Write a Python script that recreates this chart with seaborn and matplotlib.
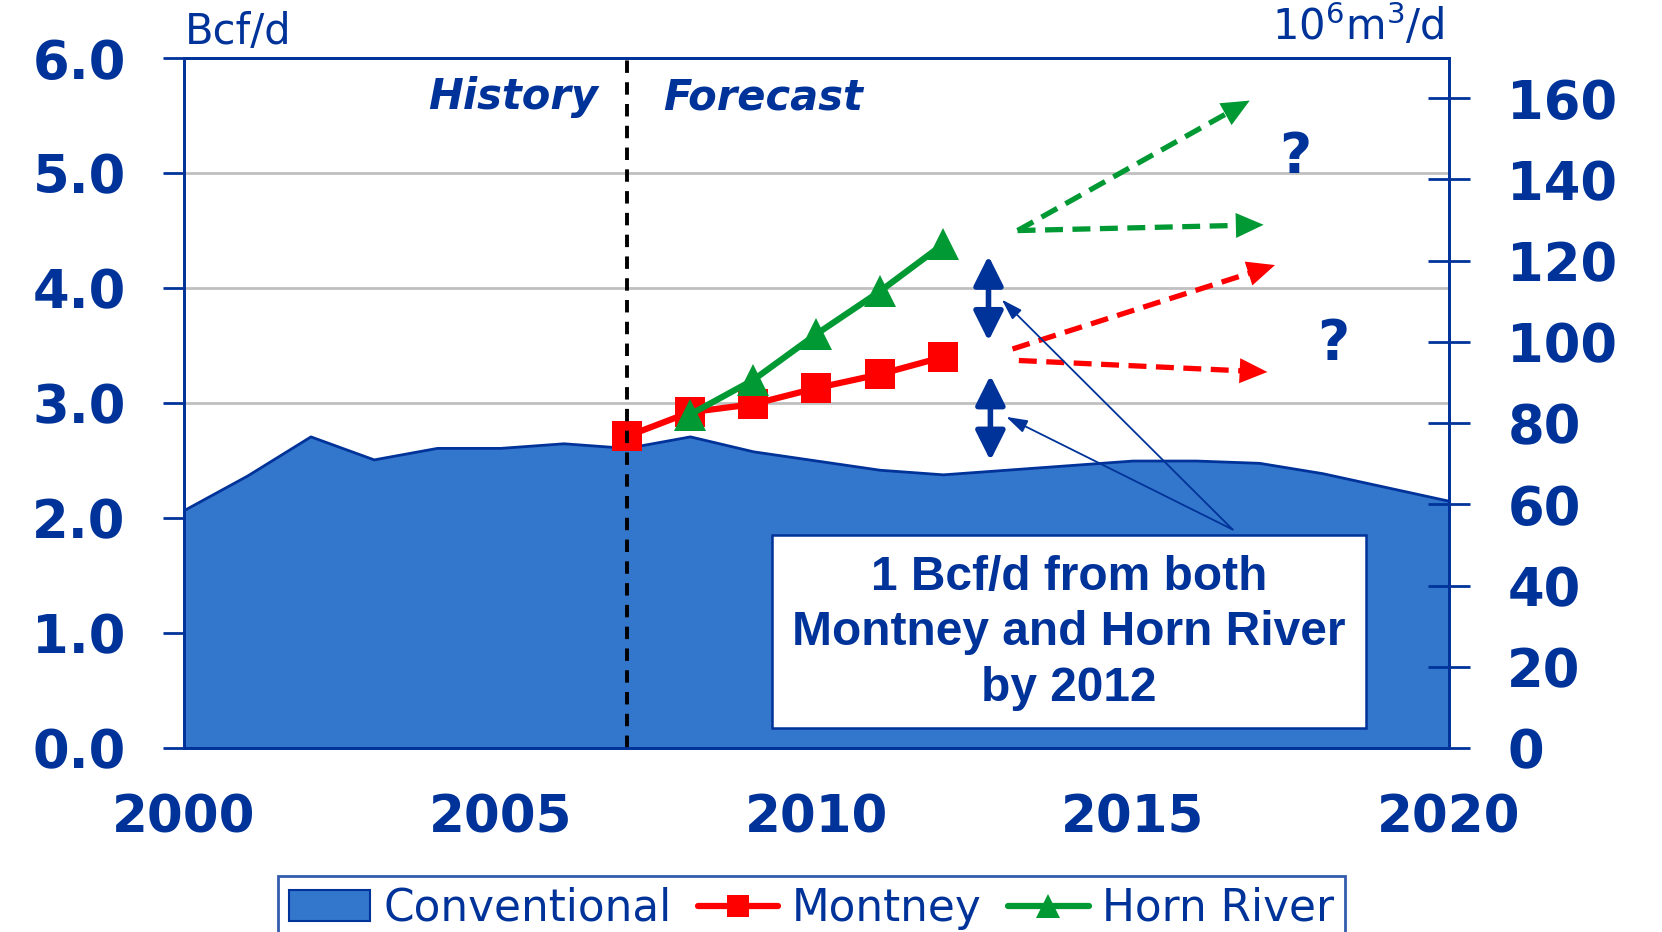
import numpy as np
import pandas as pd
import matplotlib
matplotlib.use("Agg")
import matplotlib.pyplot as plt
import seaborn as sns
from matplotlib.patches import Rectangle, Patch
from matplotlib.lines import Line2D

# ---------------- data ----------------
years = list(range(2000, 2021))
conventional = [2.07, 2.37, 2.71, 2.51, 2.61, 2.61, 2.65, 2.61, 2.71, 2.58, 2.50,
                2.42, 2.38, 2.42, 2.46, 2.50, 2.50, 2.48, 2.39, 2.27, 2.15]
montney_years = [2007, 2008, 2009, 2010, 2011, 2012]
montney = [2.71, 2.92, 2.99, 3.13, 3.25, 3.40]
horn_years = [2008, 2009, 2010, 2011, 2012]
horn_river = [2.90, 3.20, 3.60, 3.97, 4.38]

# forecast scenario arrows (start, end) in (year, Bcf/d)
green_scen = [((2013.18, 4.50), (2016.85, 5.63)), ((2013.18, 4.50), (2017.07, 4.55))]
red_scen = [((2013.10, 3.47), (2017.25, 4.20)), ((2013.20, 3.37), (2017.13, 3.27))]
question_marks = [(2017.57, 5.14), (2018.17, 3.51)]
double_arrows = [((2012.72, 3.54), (2012.72, 4.28)), ((2012.75, 2.50), (2012.75, 3.24))]
note_origin = (2016.58, 1.90)
note_targets = [(2012.93, 3.90), (2013.00, 2.88)]
note_text = "1 Bcf/d from both\nMontney and Horn River\nby 2012"
note_box = (2009.29, 0.175, 9.40, 1.675)

y_ticks_left = [0, 1, 2, 3, 4, 5, 6]
y_ticks_right = [0, 20, 40, 60, 80, 100, 120, 140, 160]
x_major = [2000, 2005, 2010, 2015, 2020]
BCF_TO_M3 = 28.317

# ---------------- style ----------------
sns.set_style("white")
plt.rcParams["font.family"] = ["DejaVu Sans"]
DB = "#003399"
FILL = "#3377CC"
RED = "#FF0000"
GREEN = "#009933"

fig = plt.figure(figsize=(16.62, 9.32), dpi=100)
ax = fig.add_axes([0.1107, 0.1974, 0.7611, 0.7403])
ax.set_xlim(2000, 2020)
ax.set_ylim(0, 6)

# grid
ax.set_axisbelow(True)
ax.yaxis.grid(True, color="#C0C0C0", lw=2)
ax.xaxis.grid(False)

# conventional area
ax.fill_between(years, conventional, 0, facecolor=FILL, edgecolor=DB, lw=2, zorder=1)

# lines via seaborn
df_m = pd.DataFrame({"year": montney_years, "val": montney})
df_h = pd.DataFrame({"year": horn_years, "val": horn_river})
sns.lineplot(data=df_m, x="year", y="val", ax=ax, color=RED, lw=4.5, marker="s",
             markersize=21, markeredgewidth=0, zorder=4)
sns.lineplot(data=df_h, x="year", y="val", ax=ax, color=GREEN, lw=4.5, marker="^",
             markersize=23, markeredgewidth=0, zorder=5)
ax.set_xlabel("")
ax.set_ylabel("")

# history / forecast divider
ax.axvline(2007, color="black", lw=2.8, ls=(0, (3.2, 2.4)), zorder=6)
ax.text(2006.55, 5.66, "History", color=DB, fontsize=30, fontweight="bold",
        style="italic", ha="right", va="center")
ax.text(2007.58, 5.66, "Forecast", color=DB, fontsize=30, fontweight="bold",
        style="italic", ha="left", va="center")

# scenario dashed arrows
fig.canvas.draw()
def dashed_arrow(p0, p1, color):
    d0 = ax.transData.transform(p0)
    d1 = ax.transData.transform(p1)
    v = d1 - d0
    L = np.hypot(*v)
    head_px = 24
    dm = d1 - v / L * head_px * 0.8
    pm = ax.transData.inverted().transform(dm)
    ax.plot([p0[0], pm[0]], [p0[1], pm[1]], color=color, lw=3.8,
            ls=(0, (3.4, 1.8)), solid_capstyle="butt", zorder=5)
    pb = ax.transData.inverted().transform(d1 - v / L * 2)
    ax.annotate("", xy=p1, xytext=pb,
                arrowprops=dict(arrowstyle="-|>,head_length=1.0,head_width=0.45",
                                mutation_scale=20, color=color, lw=0,
                                shrinkA=0, shrinkB=0), zorder=5)

for s, e in green_scen:
    dashed_arrow(s, e, GREEN)
for s, e in red_scen:
    dashed_arrow(s, e, RED)

for qx, qy in question_marks:
    ax.text(qx, qy, "?", color=DB, fontsize=40, fontweight="bold", ha="center", va="center")

for s, e in double_arrows:
    ax.annotate("", xy=e, xytext=s,
                arrowprops=dict(arrowstyle="<|-|>,head_length=1.2,head_width=0.6",
                                mutation_scale=15, color=DB, lw=4,
                                shrinkA=0, shrinkB=0), zorder=6)

for t in note_targets:
    ax.annotate("", xy=t, xytext=note_origin,
                arrowprops=dict(arrowstyle="-|>,head_length=0.8,head_width=0.25",
                                mutation_scale=16, color=DB, lw=1.3,
                                shrinkA=0, shrinkB=0), zorder=6)

# note box
ax.add_patch(Rectangle(note_box[:2], note_box[2], note_box[3], facecolor="white",
                       edgecolor=DB, lw=1.8, zorder=7))
ax.text(note_box[0] + note_box[2] / 2, note_box[1] + note_box[3] / 2 - 0.01, note_text,
        family=["Liberation Sans", "DejaVu Sans"], fontsize=34.5, fontweight="bold",
        color=DB, ha="center", va="center", linespacing=1.3, zorder=8)

# axes styling
for sp in ax.spines.values():
    sp.set_color(DB)
    sp.set_linewidth(2)
ax.set_yticks(y_ticks_left)
ax.set_yticklabels([f"{v:.1f}" for v in y_ticks_left])
ax.tick_params(axis="y", direction="out", length=15, width=2, color=DB, pad=27,
               labelsize=38, labelcolor=DB)
for lab in ax.get_yticklabels():
    lab.set_fontweight("bold")
ax.set_xticks(x_major)
ax.set_xticks(years, minor=True)
ax.set_xticklabels([str(y) for y in x_major])
ax.tick_params(axis="x", which="both", direction="out", length=9, width=2, color=DB,
               pad=24, labelsize=37, labelcolor=DB)
for lab in ax.get_xticklabels():
    lab.set_fontweight("bold")

# right axis
ax2 = ax.twinx()
ax2.set_ylim(0, 6 * BCF_TO_M3)
ax2.set_yticks(y_ticks_right)
ax2.set_yticklabels([str(v) for v in y_ticks_right])
ax2.tick_params(axis="y", direction="inout", length=30, width=2, color=DB, pad=27,
                labelsize=38, labelcolor=DB)
for lab in ax2.get_yticklabels():
    lab.set_fontweight("bold")
for sp in ax2.spines.values():
    sp.set_color(DB)
    sp.set_linewidth(2)
ax2.grid(False)

# unit labels
fig.text(185 / 1662, 1 - 43.5 / 932, "Bcf/d", color=DB, fontsize=30, ha="left", va="baseline")
fig.text(1444 / 1662, 1 - 40 / 932, "10$^{6}$m$^{3}$/d", color=DB, fontsize=30,
         ha="right", va="baseline")

# legend
handles = [Patch(facecolor=FILL, edgecolor=DB, lw=1.5),
           Line2D([], [], color=RED, lw=4.5, marker="s", markersize=16, markeredgewidth=0),
           Line2D([], [], color=GREEN, lw=4.5, marker="^", markersize=17, markeredgewidth=0)]
leg = fig.legend(handles, ["Conventional", "Montney", "Horn River"], ncol=3,
                 loc="upper left", bbox_to_anchor=(278 / 1662, 1 - 876 / 932),
                 fontsize=31.5, frameon=True, fancybox=False, handlelength=1.85,
                 handletextpad=0.3, columnspacing=0.6, borderpad=0.25, borderaxespad=0)
leg.get_frame().set_edgecolor(DB)
leg.get_frame().set_linewidth(2)
for t in leg.get_texts():
    t.set_color(DB)

fig.savefig("out.png", dpi=100)
